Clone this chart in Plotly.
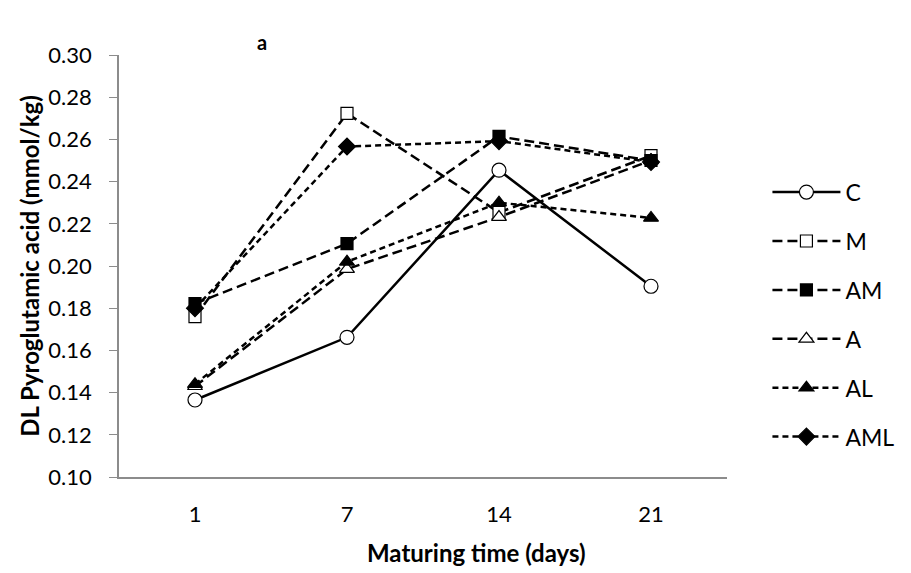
import plotly.graph_objects as go

days = ["1", "7", "14", "21"]
C = [0.1365, 0.1662, 0.2454, 0.1904]
M = [0.1760, 0.2723, 0.2254, 0.2523]
AM = [0.1822, 0.2106, 0.2614, 0.2500]
A = [0.1430, 0.1985, 0.2232, 0.2500]
AL = [0.1440, 0.2020, 0.2300, 0.2228]
AML = [0.1800, 0.2566, 0.2592, 0.2493]

series = [
    ("C", C, "solid", "circle", "white", 14),
    ("M", M, "10px,5px", "square", "white", 12),
    ("AM", AM, "10px,5px", "square", "black", 12),
    ("A", A, "10px,5px", "triangle-up", "white", 13),
    ("AL", AL, "6px,4px", "triangle-up", "black", 13),
    ("AML", AML, "6px,4px", "diamond", "black", 13),
]

fig = go.Figure()
for name, vals, dash, sym, fill, size in series:
    fig.add_trace(go.Scatter(
        x=days, y=vals, name=name, mode="lines+markers",
        line=dict(color="black", width=2.5, dash=dash),
        marker=dict(symbol=sym, size=size, color=fill,
                    line=dict(color="black", width=1.2)),
        legendgroup=name,
    ))

font_family = "Lato, 'Open Sans', sans-serif"
fig.update_layout(
    width=911, height=573,
    margin=dict(l=119, r=172, t=55, b=96),
    plot_bgcolor="white", paper_bgcolor="white",
    font=dict(family=font_family, size=22, color="black"),
    showlegend=True,
    legend=dict(x=1.0665, y=0.726, xanchor="left", yanchor="top",
                font=dict(size=23), tracegroupgap=16,
                traceorder="grouped", itemwidth=68, bgcolor="rgba(0,0,0,0)"),
    xaxis=dict(type="category", range=[-0.5, 3.5], showline=True,
               linecolor="#8c8c8c", linewidth=1.5, ticks="", showgrid=False,
               zeroline=False, ticklabelstandoff=17),
    yaxis=dict(range=[0.10, 0.30], dtick=0.02, tickformat=".2f", showline=True,
               linecolor="#8c8c8c", linewidth=1.5, ticks="outside", ticklen=8,
               tickcolor="#8c8c8c", showgrid=False, zeroline=False,
               ticklabelstandoff=13),
    annotations=[
        dict(text="<b>a</b>", xref="paper", yref="paper", x=(265 - 119) / 620,
             y=(477 - 42) / 422, xanchor="center", yanchor="middle",
             showarrow=False, font=dict(size=20)),
        dict(text="<b>Maturing time (days)</b>", xref="paper", yref="paper",
             x=(484 - 119) / 620, y=(477 - 552) / 422, xanchor="center",
             yanchor="middle", showarrow=False, font=dict(size=24)),
        dict(text="<b>DL Pyroglutamic acid (mmol/kg)</b>", xref="paper", yref="paper",
             x=(27 - 119) / 620, y=0.5, xanchor="center", yanchor="middle",
             textangle=-90, showarrow=False, font=dict(size=24)),
    ],
)

fig.write_html("out.html")
